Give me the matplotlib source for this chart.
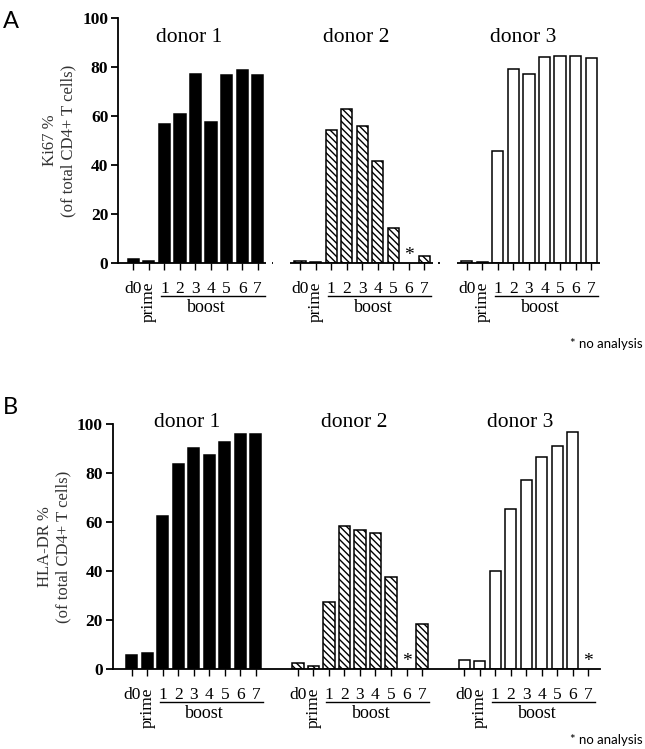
import numpy as np
import matplotlib.pyplot as plt

plt.rcParams['font.family'] = ['Liberation Serif', 'DejaVu Serif']
plt.rcParams['hatch.linewidth'] = 1.0

categories = ['d0', 'prime', '1', '2', '3', '4', '5', '6', '7']
donors = ['donor 1', 'donor 2', 'donor 3']

# Ki67 % of total CD4+ T cells (nan = no analysis)
ki67_d1 = [1.6, 0.7, 56.7, 61.0, 77.1, 57.4, 76.8, 78.7, 76.8]
ki67_d2 = [1.0, 0.3, 54.4, 62.9, 55.9, 41.6, 14.2, np.nan, 3.0]
ki67_d3 = [1.0, 0.3, 45.8, 79.2, 77.3, 84.1, 84.4, 84.6, 83.8]

# HLA-DR % of total CD4+ T cells
hla_d1 = [5.7, 6.5, 62.6, 83.6, 90.3, 87.3, 92.8, 95.8, 95.8]
hla_d2 = [2.3, 1.2, 27.5, 58.4, 56.7, 55.6, 37.7, np.nan, 18.2]
hla_d3 = [3.7, 3.3, 39.9, 65.4, 77.3, 86.4, 90.9, 96.6, np.nan]

group_offset = [0, 10.72, 21.44]
styles = [dict(facecolor='black', hatch=None),
          dict(facecolor='white', hatch='\\\\\\\\\\'),
          dict(facecolor='white', hatch=None)]


def draw_panel(ax, data, ylabel, xlim_left, donor_y, broken_axis):
    pos_all, lab_all = [], []
    for g, vals in enumerate(data):
        x = np.arange(len(categories)) + group_offset[g]
        for xi, v in zip(x, vals):
            if np.isnan(v):
                ax.text(xi, 3.0, '*', ha='center', va='center', fontsize=14)
            else:
                ax.bar(xi, v, width=0.72, edgecolor='black', linewidth=1.1,
                       **styles[g])
        pos_all += list(x)
        lab_all += categories
        if broken_axis:
            left = xlim_left if g == 0 else x[0] - 0.64
            ax.plot([left, x[-1] + 0.55], [0, 0], color='black', lw=1.3,
                    clip_on=False, solid_capstyle='butt')
            if g < 2:
                ax.plot([x[-1] + 0.9, x[-1] + 1.0], [0, 0], color='black',
                        lw=1.3, clip_on=False, solid_capstyle='butt')
        # boost underline + label
        ax.plot([x[2] - 0.2, x[-1] + 0.45], [-13.4, -13.4], color='black',
                lw=1.0, clip_on=False)
        ax.text(x[2] + 2.7, -18.0, 'boost', ha='center', va='center',
                fontsize=13)
        ax.text(x[0] + 3.6, donor_y, donors[g], ha='center', va='center',
                fontsize=15.5)

    ax.set_xlim(xlim_left, 30.2)
    ax.set_ylim(0, 100)
    ax.set_yticks([0, 20, 40, 60, 80, 100])
    ax.tick_params(axis='y', labelsize=12.5, width=1.3, length=5, pad=2)
    for t in ax.get_yticklabels():
        t.set_fontweight('bold')
    ax.set_xticks(pos_all)
    ax.set_xticklabels(lab_all, fontsize=12.5)
    ax.tick_params(axis='x', width=1.0, length=5, pad=8)
    for t in ax.get_xticklabels():
        if t.get_text() == 'prime':
            t.set_rotation(90)
    for s in ['top', 'right']:
        ax.spines[s].set_visible(False)
    ax.spines['bottom'].set_visible(not broken_axis)
    ax.spines['bottom'].set_linewidth(1.3)
    ax.spines['left'].set_linewidth(1.3)
    ax.set_ylabel(ylabel + '\n(of total CD4+ T cells)', fontsize=12,
                  color='#333333', labelpad=4, linespacing=1.2)


fig = plt.figure(figsize=(6.45, 7.49), dpi=100)
axA = fig.add_axes([118 / 645, 1 - 263 / 749, 485 / 645, 245 / 749])
axB = fig.add_axes([112.7 / 645, 1 - 669 / 749, 487.3 / 645, 245 / 749])

draw_panel(axA, [ki67_d1, ki67_d2, ki67_d3], 'Ki67 %', -0.98, 92.2, True)
draw_panel(axB, [hla_d1, hla_d2, hla_d3], 'HLA-DR %', -1.23, 100.5, False)

fig.text(0.005, 0.985, 'A', fontsize=17, family=['Lato', 'DejaVu Sans'],
         ha='left', va='top')
fig.text(0.005, 0.47, 'B', fontsize=17, family=['Lato', 'DejaVu Sans'],
         ha='left', va='top')
fig.text(0.997, 1 - 344 / 749, '* no analysis', fontsize=9.5,
         family=['Lato', 'DejaVu Sans'], ha='right', va='center')
fig.text(0.997, 1 - 740 / 749, '* no analysis', fontsize=9.5,
         family=['Lato', 'DejaVu Sans'], ha='right', va='center')

fig.savefig('out.png', dpi=100)
